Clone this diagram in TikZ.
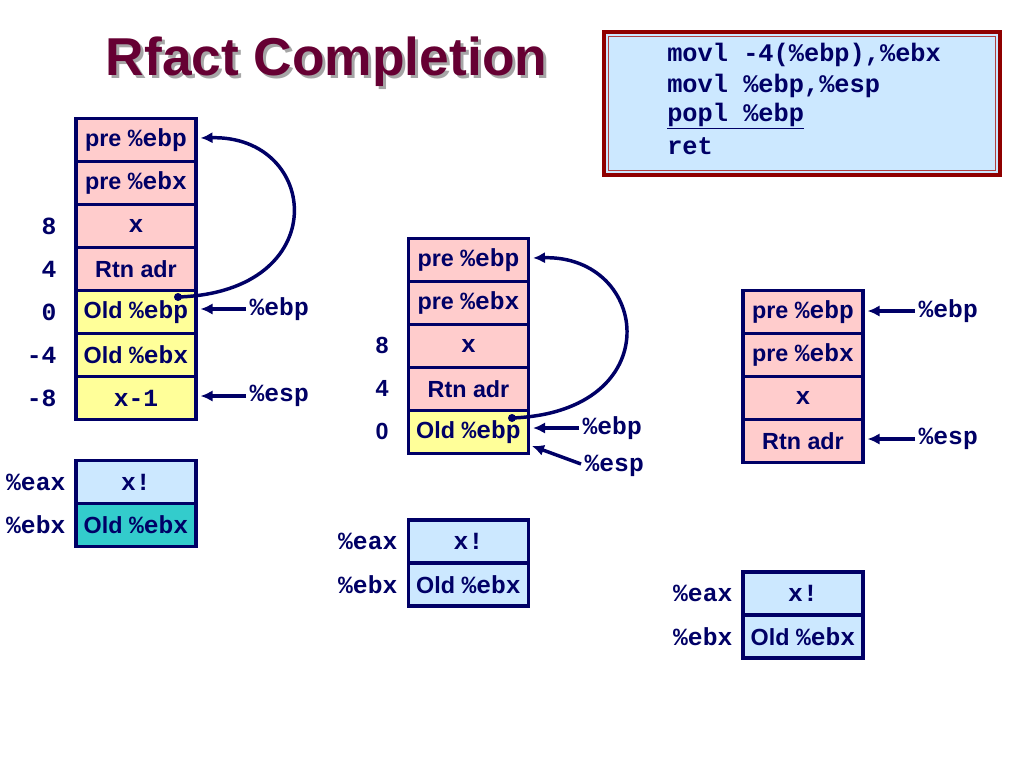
\documentclass[tikz,border=0pt]{standalone}
\usepackage{fontspec}
\setmainfont{Liberation Sans}
\setsansfont{Liberation Sans}
\setmonofont{Liberation Mono}
\usetikzlibrary{arrows.meta,calc}
\definecolor{navy}{HTML}{000066}
\definecolor{pinkc}{HTML}{FFCCCC}
\definecolor{yelc}{HTML}{FFFF99}
\definecolor{bluec}{HTML}{CCE8FF}
\definecolor{tealc}{HTML}{33CCCC}
\definecolor{titlec}{HTML}{660033}
\definecolor{framec}{HTML}{8F0000}
\definecolor{framein}{HTML}{B04040}
\newcommand{\mtx}[1]{{\fontsize{18.5}{20}\selectfont\ttfamily\bfseries #1}}
\begin{document}
\begin{tikzpicture}[x=0.75pt,y=-0.75pt,
 cell/.style={draw=navy, line width=2.3pt, minimum width=90pt, minimum height=32.25pt, inner sep=0pt, text=navy, font=\fontsize{17.5}{20}\selectfont\sffamily\bfseries},
 pk/.style={cell, fill=pinkc}, yl/.style={cell, fill=yelc}, bl/.style={cell, fill=bluec}, tl/.style={cell, fill=tealc},
 lab/.style={text=navy, font=\fontsize{18.5}{20}\selectfont\ttfamily\bfseries, inner sep=1pt},
 num/.style={text=navy, font=\fontsize{17.5}{20}\selectfont\sffamily\bfseries, inner sep=0pt},
 code/.style={text=navy, font=\fontsize{19}{22}\selectfont\ttfamily\bfseries, inner sep=0pt, anchor=west},
 arr/.style={draw=navy, line width=2.6pt, -{Latex[length=9pt,width=8.5pt]}},
 ttl/.style={font=\fontsize{40}{44}\selectfont\sffamily\bfseries, inner sep=0pt, anchor=base}
 ]
\fill[white] (0,0) rectangle (1024,768);
\useasboundingbox (0,0) rectangle (1024,768);

% title
\node[ttl, text=gray!70] (tshadow) at (329.5,78) {Rfact Completion};
\node[ttl, text=titlec] (title) at (326.5,75) {Rfact Completion};

% code box
\fill[bluec] (604,32) rectangle (1000,175);
\draw[framec, line width=3.2pt] (604,32) rectangle (1000,175);
\draw[framein, line width=0.7pt] (608.5,36.5) rectangle (995.5,170.5);
\node[code] (c1) at (667,55) {movl -4(\%ebp),\%ebx};
\node[code] (c2) at (667,85.5) {movl \%ebp,\%esp};
\node[code] (c3) at (667,116) {\underline{popl \%ebp}};
\node[code] (c4) at (667,146.5) {ret};

% left stack
\node[pk] (l1) at (136,140) {pre \mtx{\%ebp}};
\node[pk] (l2) at (136,183) {pre \mtx{\%ebx}};
\node[pk] (l3) at (136,226) {\mtx{x}};
\node[pk] (l4) at (136,269) {Rtn adr};
\node[yl] (l5) at (136,312) {Old \mtx{\%ebp}};
\node[yl] (l6) at (136,355) {Old \mtx{\%ebx}};
\node[yl] (l7) at (136,398) {\mtx{x-1}};
\node[lab, anchor=east] (lo3) at (58,226) {8};
\node[lab, anchor=east] (lo4) at (58,269) {4};
\node[lab, anchor=east] (lo5) at (58,312) {0};
\node[lab, anchor=east] (lo6) at (58,355) {-4};
\node[lab, anchor=east] (lo7) at (58,398) {-8};
\node[lab, anchor=west] (lebp) at (248,309) {\%ebp};
\node[lab, anchor=west] (lesp) at (248,396) {\%esp};
\draw[arr] ($(lebp.west)+(-2,0)$) -- ($(l5.east)+(3,-3)$);
\draw[arr] ($(lesp.west)+(-2,0)$) -- ($(l7.east)+(3,-2)$);
\coordinate (ldot) at (178,297);
\fill[navy] (ldot) circle (3pt);
\draw[arr] (ldot) .. controls (335,292) and (320,135) .. ($(l1.east)+(3,-2)$);

% left registers
\node[bl] (lr1) at (136,482) {\mtx{x!}};
\node[tl] (lr2) at (136,525) {Old \mtx{\%ebx}};
\node[lab, anchor=east] (lrax) at (67,482) {\%eax};
\node[lab, anchor=east] (lrbx) at (67,525) {\%ebx};

% middle stack
\node[pk] (m1) at (468.5,260) {pre \mtx{\%ebp}};
\node[pk] (m2) at (468.5,303) {pre \mtx{\%ebx}};
\node[pk] (m3) at (468.5,346) {\mtx{x}};
\node[pk] (m4) at (468.5,389) {Rtn adr};
\node[yl] (m5) at (468.5,432) {Old \mtx{\%ebp}};
\node[num] (mo3) at (382,345) {8};
\node[num] (mo4) at (382,388) {4};
\node[num] (mo5) at (382,431) {0};
\node[lab, anchor=west] (mebp) at (581,428) {\%ebp};
\node[lab, anchor=west] (mesp) at (583,466) {\%esp};
\draw[arr] ($(mebp.west)+(-2,0)$) -- ($(m5.east)+(3,-4)$);
\coordinate (mtip) at (532,446);
\draw[arr] ($(mesp.west)+(-2,-2)$) -- (mtip);
\coordinate (mdot) at (512,418);
\fill[navy] (mdot) circle (3pt);
\draw[arr] (mdot) .. controls (670,412) and (650,255) .. ($(m1.east)+(3,-2)$);

% middle registers
\node[bl] (mr1) at (468.5,541.5) {\mtx{x!}};
\node[bl] (mr2) at (468.5,584.5) {Old \mtx{\%ebx}};
\node[lab, anchor=east] (mrax) at (399,541.5) {\%eax};
\node[lab, anchor=east] (mrbx) at (399,584.5) {\%ebx};

% right stack
\node[pk] (r1) at (803,312) {pre \mtx{\%ebp}};
\node[pk] (r2) at (803,355) {pre \mtx{\%ebx}};
\node[pk] (r3) at (803,398) {\mtx{x}};
\node[pk] (r4) at (803,441) {Rtn adr};
\node[lab, anchor=west] (rebp) at (917,311) {\%ebp};
\node[lab, anchor=west] (resp) at (917,439) {\%esp};
\draw[arr] ($(rebp.west)+(-2,0)$) -- ($(r1.east)+(3,-1)$);
\draw[arr] ($(resp.west)+(-2,0)$) -- ($(r4.east)+(3,-2)$);

% right registers
\node[bl] (rr1) at (803,593.5) {\mtx{x!}};
\node[bl] (rr2) at (803,636.5) {Old \mtx{\%ebx}};
\node[lab, anchor=east] (rrax) at (734,593.5) {\%eax};
\node[lab, anchor=east] (rrbx) at (734,636.5) {\%ebx};
\end{tikzpicture}
\end{document}
